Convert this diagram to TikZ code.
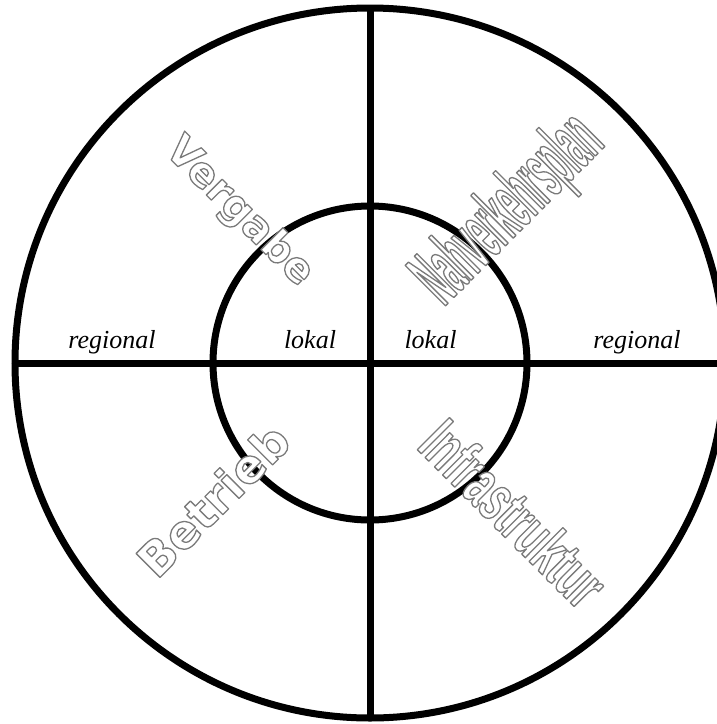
\documentclass[tikz,border=0pt]{standalone}
\usepackage{fontspec}
\setmainfont{Liberation Serif}
\newfontfamily\roundfont{DejaVu Sans}
\newfontfamily\tallfont[FakeStretch=0.34]{Liberation Sans}
\newfontfamily\slimfont[FakeStretch=0.59]{Liberation Sans}
\newcommand\hollowtext[1]{\special{pdf:literal direct 0.48 G 1.3 w 1 j 2 Tr}#1\special{pdf:literal direct 0 Tr}}
\tikzset{
  ring/.style={draw=black, circle, line width=7pt, inner sep=0pt, outer sep=0pt},
  axisline/.style={draw=black, line width=7pt},
  scopelabel/.style={font=\fontsize{26}{30}\selectfont\itshape, anchor=base, inner sep=0pt},
  hollow/.style={text=white, inner sep=0pt}
}

\begin{document}
\begin{tikzpicture}[x=1pt, y=-1pt]
  \useasboundingbox (0,0) rectangle (717,724);
  \clip (0,0) rectangle (717,724);
  \coordinate (centre) at (370,363);
  \node[ring, minimum size=710pt] (outer) at (centre) {};
  \node[ring, minimum size=314pt] (inner) at (centre) {};

  \draw[axisline] (outer.north) -- (outer.south);
  \draw[axisline] (outer.west) -- (outer.east);

  \node[scopelabel] (regleft) at (112,348) {regional};
  \node[scopelabel] (lokleft) at (310,348) {lokal};
  \node[scopelabel] (lokright) at (430.5,348) {lokal};
  \node[scopelabel] (regright) at (637,348) {regional};

  \node[hollow, rotate=-45, font=\roundfont\bfseries\fontsize{41}{44}\selectfont] (vergabe) at (239,212) {\hollowtext{Vergabe}};
  \node[hollow, rotate=45, font=\tallfont\bfseries\fontsize{83}{86}\selectfont] (nvp) at (510,211) {\hollowtext{Nahverkehrsplan}};
  \node[hollow, rotate=45, font=\roundfont\bfseries\fontsize{46.5}{49}\selectfont] (betrieb) at (213,500) {\hollowtext{Betrieb}};
  \node[hollow, rotate=-45, font=\slimfont\bfseries\fontsize{66}{69}\selectfont] (infra) at (514,513) {\hollowtext{Infrastruktur}};
\end{tikzpicture}
\end{document}
